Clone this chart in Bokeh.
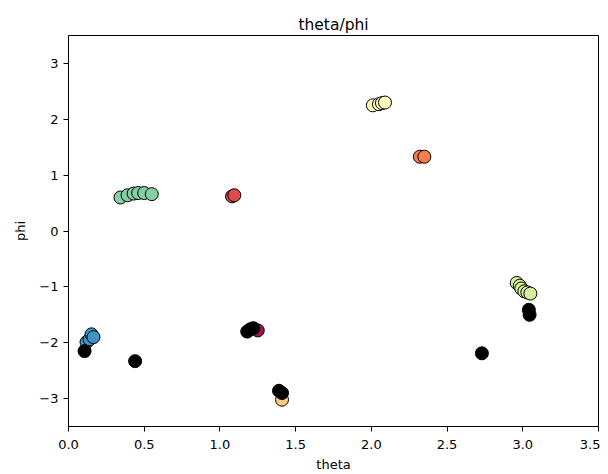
from bokeh.plotting import figure
from bokeh.models import FixedTicker, ColumnDataSource
from bokeh.embed import file_html
from bokeh.resources import INLINE

# cluster points (theta, phi)
theta = [0.119, 0.139, 0.152, 0.165,
         0.343, 0.39, 0.43, 0.46, 0.50, 0.55,
         1.08, 1.095,
         1.25,
         1.41,
         2.01, 2.05, 2.07, 2.09,
         2.32, 2.35,
         2.96, 2.98, 2.99, 3.01, 3.03, 3.05]
phi = [-1.99, -1.94, -1.85, -1.90,
       0.60, 0.64, 0.67, 0.68, 0.68, 0.66,
       0.62, 0.64,
       -1.78,
       -3.02,
       2.25, 2.27, 2.29, 2.30,
       1.33, 1.33,
       -0.93, -0.98, -1.03, -1.08, -1.10, -1.12]
labels = [7, 7, 7, 7,
          6, 6, 6, 6, 6, 6,
          1, 1,
          0,
          3,
          4, 4, 4, 4,
          2, 2,
          5, 5, 5, 5, 5, 5]
palette = ["#a3124f", "#de4b4b", "#f67e4b", "#fdcd7b",
           "#fefcbc", "#d6ee9b", "#86cfa5", "#3d95c0"]

# noise points (black)
noise_theta = [0.106, 0.44, 1.18, 1.20, 1.22, 1.39, 1.41, 2.73, 3.04, 3.045]
noise_phi = [-2.15, -2.33, -1.80, -1.76, -1.74, -2.86, -2.90, -2.19, -1.41, -1.50]

x_ticks = [0.0, 0.5, 1.0, 1.5, 2.0, 2.5, 3.0, 3.5]
y_ticks = [-3, -2, -1, 0, 1, 2, 3]

p = figure(width=600, height=474, output_backend="svg", toolbar_location=None,
           x_range=(0, 3.5), y_range=(-3.5, 3.5), title="theta/phi",
           min_border_left=68, min_border_right=2, min_border_top=35, min_border_bottom=46)

p.title.align = "center"
p.title.text_font = "DejaVu Sans"
p.title.text_font_size = "15.5px"
p.title.text_font_style = "normal"
p.title.text_color = "black"
p.title.standoff = 4

p.xgrid.visible = False
p.ygrid.visible = False
p.outline_line_color = "black"
p.outline_line_width = 1
p.outline_line_alpha = 1

for ax in (p.xaxis[0], p.yaxis[0]):
    ax.major_label_text_font = "DejaVu Sans"
    ax.major_label_text_font_size = "13px"
    ax.major_label_text_color = "black"
    ax.axis_label_text_font = "DejaVu Sans"
    ax.axis_label_text_font_size = "13px"
    ax.axis_label_text_font_style = "normal"
    ax.axis_label_text_color = "black"
    ax.major_tick_line_color = "black"
    ax.major_tick_out = 5
    ax.major_tick_in = 0
    ax.minor_tick_line_color = None
    ax.axis_line_color = "black"

p.xaxis.axis_label = "theta"
p.yaxis.axis_label = "phi"
p.xaxis.ticker = FixedTicker(ticks=x_ticks)
p.yaxis.ticker = FixedTicker(ticks=y_ticks)
p.xaxis.major_label_overrides = {t: f"{t:.1f}" for t in x_ticks}
p.yaxis.major_label_overrides = {t: (f"\u2212{abs(t)}" if t < 0 else str(t)) for t in y_ticks}
p.xaxis.major_label_standoff = 8
p.xaxis.axis_label_standoff = 5
p.yaxis.axis_label_standoff = 8

src = ColumnDataSource(dict(x=theta, y=phi, c=[palette[l] for l in labels]))
p.scatter("x", "y", source=src, size=13, fill_color="c", line_color="black", line_width=1)
p.scatter(noise_theta, noise_phi, size=13, fill_color="black", line_color="black", line_width=1)

open("out.html", "w").write(file_html(p, INLINE))
